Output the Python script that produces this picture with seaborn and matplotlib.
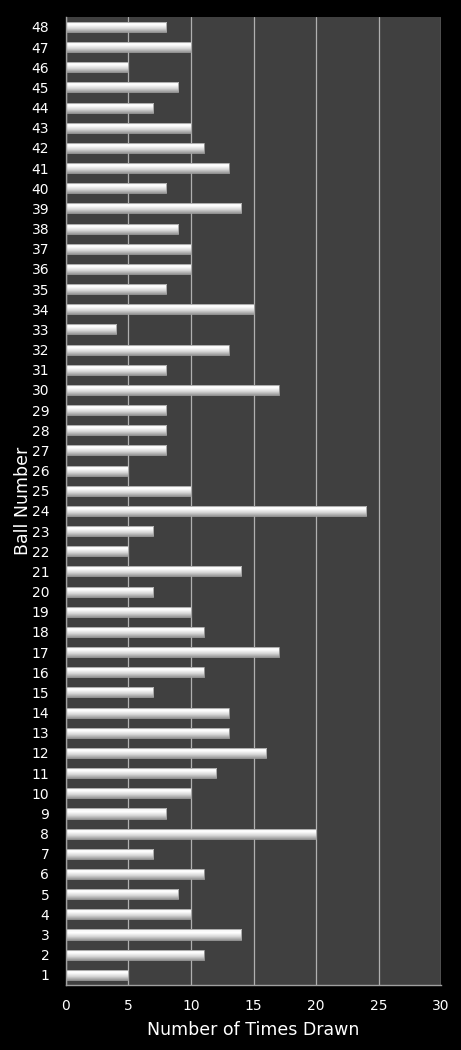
import numpy as np
import pandas as pd
import seaborn as sns
import matplotlib.pyplot as plt
from matplotlib.colors import LinearSegmentedColormap

# ball numbers and how often each was drawn
balls = list(range(1, 49))
times_drawn = [5, 11, 14, 10, 9, 11, 7, 20, 8, 10,
               12, 16, 13, 13, 7, 11, 17, 11, 10, 7,
               14, 5, 7, 24, 10, 5, 8, 8, 8, 17,
               8, 13, 4, 15, 8, 10, 10, 9, 14, 8,
               13, 11, 10, 7, 9, 5, 10, 8]

df = pd.DataFrame({'ball': [str(b) for b in balls], 'times': times_drawn})
order = [str(b) for b in reversed(balls)]

sns.set_style('dark')
fig = plt.figure(figsize=(4.61, 10.5), dpi=100, facecolor='black')
ax = fig.add_axes([0.143, 0.062, 0.814, 0.922])
ax.set_facecolor('#404040')

sns.barplot(data=df, x='times', y='ball', order=order, orient='h',
            color='#e0e0e0', width=0.5, edgecolor='#a0a0a0', linewidth=0.6, ax=ax)

# glossy gradient on each bar (bottom dark -> top white)
cmap = LinearSegmentedColormap.from_list('gloss', ['#9a9a9a', '#d8d8d8', '#ffffff', '#f2f2f2'])
grad = np.linspace(0, 1, 64).reshape(-1, 1)
for p in ax.patches:
    x0, y0 = p.get_x(), p.get_y()
    w, h = p.get_width(), p.get_height()
    im = ax.imshow(grad, cmap=cmap, aspect='auto', extent=(x0, x0 + w, y0 + h, y0),
                   origin='lower', zorder=2, interpolation='bilinear')
    im.set_clip_path(p)
    p.set_facecolor('none')
    p.set_zorder(3)

ax.set_xlim(0, 30)
ax.set_ylim(len(order) - 0.5, -0.5)
ax.set_xticks([0, 5, 10, 15, 20, 25, 30])
ax.xaxis.grid(True, color='#b0b0b0', linewidth=0.9, zorder=0.5)
ax.yaxis.grid(False)
ax.set_axisbelow(True)

for s in ['top', 'right']:
    ax.spines[s].set_visible(False)
for s in ['left', 'bottom']:
    ax.spines[s].set_visible(True)
    ax.spines[s].set_color('#a0a0a0')
    ax.spines[s].set_linewidth(1.0)

ax.tick_params(axis='both', colors='white', labelsize=10, length=0)
ax.tick_params(axis='x', pad=10)
ax.tick_params(axis='y', pad=12)
ax.set_xlabel('Number of Times Drawn', color='white', fontsize=12.5, labelpad=6)
ax.set_ylabel('Ball Number', color='white', fontsize=12.5, labelpad=0)

fig.savefig('out.png', dpi=100, facecolor='black')
